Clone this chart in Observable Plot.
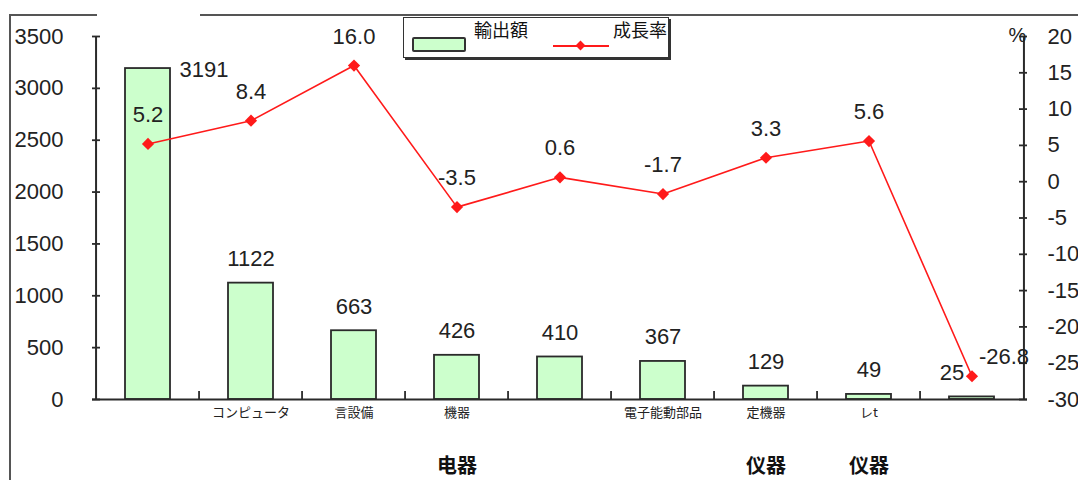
<!DOCTYPE html>
<html><head><meta charset="utf-8">
<script src="https://cdn.jsdelivr.net/npm/d3@7"></script>
<script src="https://cdn.jsdelivr.net/npm/@observablehq/plot@0.6"></script>
<style>
body{margin:0;background:#fff;overflow:hidden}
#wrap{position:relative;width:1078px;height:480px;overflow:hidden;background:#fff}
#frame{position:absolute;left:9px;top:14px;width:1080px;height:480px;border-left:2px solid #555;border-top:2px solid #555;box-sizing:border-box}
#patch{position:absolute;left:97px;top:6px;width:103px;height:25px;background:#fff}
#legend{position:absolute;left:403px;top:17px;width:264px;height:39px;border:1.5px solid #333;box-shadow:2px 2px 0 #333;background:#fff;font-family:"Noto Sans CJK JP",sans-serif}
#legend .sw{position:absolute;left:8px;top:19px;width:50px;height:11px;background:#ccffcc;border:2px solid #333;border-radius:2px}
#legend .t{position:absolute;top:0px;font-size:18px;line-height:22px;color:#111;background:#fff}
#legend .ln{position:absolute;left:149px;top:27px;width:56px;height:2px;background:#ff1a1a}
#legend .dm{position:absolute;left:173px;top:24px;width:7px;height:7px;background:#ff1a1a;transform:rotate(45deg)}
</style></head><body><div id="wrap"></div>
<script>
const categories = ["総計","コンピュータ","通信設備","家電機器","電子部品","電子能動部品","測定機器","テレビ","その他"];
const tickLabels = ["","コンピュータ","言設備","機器","","電子能動部品","定機器","レt",""];
const lowerLabels = ["","","","电器","","","仪器","仪器",""];
const exportValues = [3191,1122,663,426,410,367,129,49,25];
const growthRates = [5.2,8.4,16.0,-3.5,0.6,-1.7,3.3,5.6,-26.8];
const leftTicks = [0,500,1000,1500,2000,2500,3000,3500];
const rightTicks = [-30,-25,-20,-15,-10,-5,0,5,10,15,20];
const legendBar = "輸出額";
const legendLine = "成長率";

const W=1078,H=480,mL=92,mR=51,mT=36,mB=81;
const plotW=W-mL-mR, plotH=H-mT-mB, step=plotW/categories.length;
const ink="#2a2a2a";
const toLeft = g => (g+30)*3500/50;
const rows = categories.map((c,i)=>({category:c,value:exportValues[i],growth:growthRates[i],gy:toLeft(growthRates[i]),label:tickLabels[i],lower:lowerLabels[i],i}));
const cjk = "'Noto Sans CJK JP','Noto Sans CJK SC',sans-serif";

const chart = Plot.plot({
  width:W,height:H,marginLeft:mL,marginRight:mR,marginTop:mT,marginBottom:mB,
  x:{type:"band",domain:categories,padding:0,axis:null},
  y:{domain:[0,3500],axis:null},
  style:{fontFamily:"'Liberation Sans',Arial,sans-serif",fontSize:"22px",background:"transparent",color:"#222",overflow:"visible"},
  marks:[
    Plot.barY(rows,{x:"category",y:"value",fill:"#ccffcc",stroke:ink,strokeWidth:1.8,insetLeft:29,insetRight:29}),
    Plot.ruleY([0],{stroke:ink,strokeWidth:2}),
    Plot.ruleX([categories[0]],{dx:-step/2,stroke:ink,strokeWidth:2}),
    Plot.ruleX([categories[categories.length-1]],{dx:step/2,stroke:ink,strokeWidth:2}),
    Plot.ruleY(leftTicks,{insetRight:plotW-8,stroke:ink,strokeWidth:1.8}),
    Plot.ruleY(rightTicks.map(toLeft),{insetLeft:plotW-8,stroke:ink,strokeWidth:1.8}),
    Plot.ruleX(categories.slice(1),{dx:-step/2,insetTop:plotH-8,stroke:ink,strokeWidth:1.8}),
    Plot.axisY({ticks:leftTicks,tickFormat:d=>String(d),tickSize:0,tickPadding:29,label:null,fontSize:22,fill:"#222"}),
    Plot.axisY({anchor:"right",ticks:rightTicks.map(toLeft),tickFormat:v=>String(Math.round(v*50/3500-30)),tickSize:0,tickPadding:20,label:null,fontSize:22,fill:"#222"}),
    Plot.text(["%"],{frameAnchor:"top-right",textAnchor:"middle",lineAnchor:"middle",dx:-10,dy:-1,fontSize:20,fill:"#222"}),
    Plot.line(rows,{x:"category",y:"gy",stroke:"#ff1a1a",strokeWidth:1.6}),
    Plot.dot(rows,{x:"category",y:"gy",symbol:"diamond2",r:5.5,fill:"#ff1a1a",stroke:"none"}),
    Plot.text(rows,{filter:d=>d.i>0&&d.i<8,x:"category",y:"value",text:d=>String(d.value),dy:-24,fill:"#222"}),
    Plot.text(rows,{filter:d=>d.i===0,x:"category",y:"value",text:d=>String(d.value),dx:56,dy:1,fill:"#222"}),
    Plot.text(rows,{filter:d=>d.i===8,x:"category",y:"value",text:d=>String(d.value),dx:-20,dy:-24,fill:"#222"}),
    Plot.text(rows,{filter:d=>d.i<8,x:"category",y:"gy",text:d=>d.growth.toFixed(1),dy:-29,fill:"#222"}),
    Plot.text(rows,{filter:d=>d.i===8,x:"category",y:"gy",text:d=>d.growth.toFixed(1),dx:32,dy:-19,fill:"#222"}),
    Plot.text(rows,{x:"category",text:"label",frameAnchor:"bottom",lineAnchor:"middle",dy:13,fontSize:13,fontFamily:cjk,fill:"#222"}),
    Plot.text(rows,{x:"category",text:"lower",frameAnchor:"bottom",lineAnchor:"middle",dy:67,fontSize:20,fontWeight:"bold",fontFamily:"'Noto Sans CJK SC',sans-serif",fill:"#111"})
  ]
});
const wrap=document.getElementById("wrap");
const fr=document.createElement("div");fr.id="frame";wrap.appendChild(fr);
chart.style.position="absolute";chart.style.left="0";chart.style.top="0";
wrap.appendChild(chart);
const pt=document.createElement("div");pt.id="patch";wrap.appendChild(pt);
const lg=document.createElement("div");lg.id="legend";
lg.innerHTML=`<div class="sw"></div><div class="t" style="left:70px">${legendBar}</div><div class="ln"></div><div class="dm"></div><div class="t" style="left:209px">${legendLine}</div>`;
wrap.appendChild(lg);
</script></body></html>
